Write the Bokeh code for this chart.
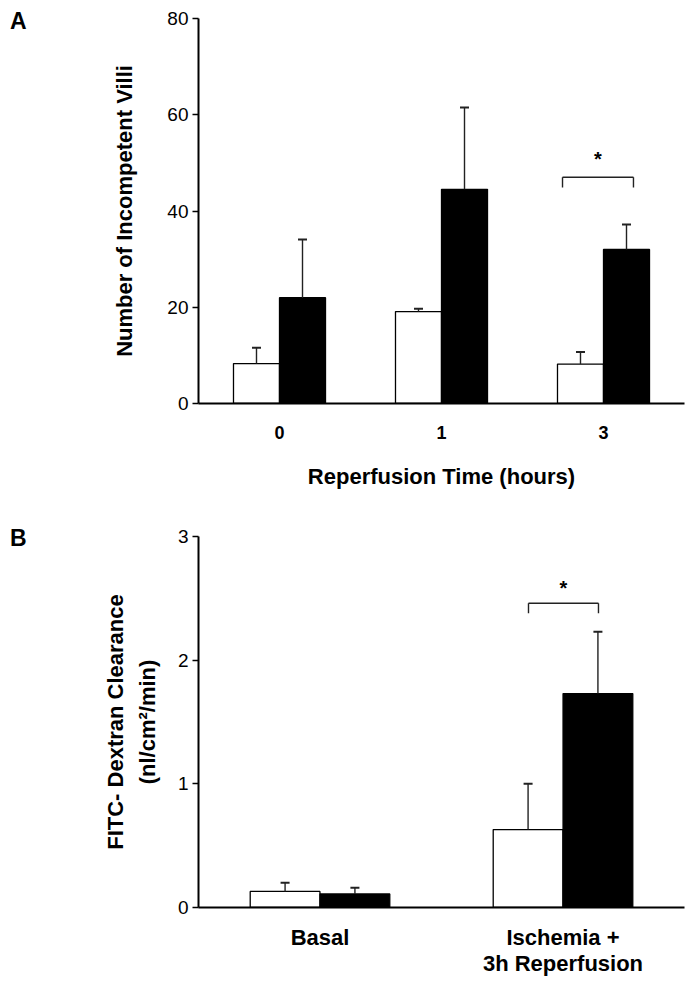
from bokeh.plotting import figure
from bokeh.layouts import column
from bokeh.models import ColumnDataSource, FixedTicker, Range1d, FactorRange, LinearAxis
from bokeh.core.properties import value
from bokeh.transform import dodge
from bokeh.embed import file_html
from bokeh.resources import INLINE

# ---------------- data ----------------
# Panel A: number of incompetent villi vs reperfusion time
groups_a = ["0", "1", "3"]
white_a = [8.3, 19.1, 8.2]
white_err_a = [3.3, 0.6, 2.5]
black_a = [22.0, 44.5, 32.0]
black_err_a = [12.1, 17.0, 5.2]
yticks_a = [0, 20, 40, 60, 80]
sig_group_a = "3"
bracket_a = [44.9, 47.0]   # leg bottom, bracket top
star_a = 50.9
panel_a = "A"

# Panel B: FITC-dextran clearance
groups_b = ["Basal", "Ischemia +\n3h Reperfusion"]
white_b = [0.13, 0.63]
white_err_b = [0.07, 0.37]
black_b = [0.11, 1.73]
black_err_b = [0.05, 0.50]
yticks_b = [0, 1, 2, 3]
sig_group_b = "Ischemia +\n3h Reperfusion"
bracket_b = [2.38, 2.46]
star_b = 2.58
panel_b = "B"

FONT = "Liberation Sans"


def style(p):
    p.outline_line_color = None
    p.xgrid.visible = False
    p.ygrid.visible = False
    for ax in (p.xaxis[0], p.yaxis[0]):
        ax.axis_line_width = 2
        ax.axis_line_color = "black"
        ax.major_tick_line_color = "black"
        ax.major_tick_line_width = 1.5
        ax.minor_tick_out = 0
        ax.minor_tick_in = 0
        ax.major_label_text_font = FONT
        ax.axis_label_text_font = FONT
        ax.major_label_text_color = "black"
        ax.axis_label_text_color = "black"
        ax.axis_label_text_font_style = "bold"
    p.xaxis.major_tick_out = 0
    p.xaxis.major_tick_in = 0
    p.yaxis.major_tick_out = 6
    p.yaxis.major_tick_in = 0


def panel_letter(p, letter, at, standoff):
    ax = LinearAxis(ticker=FixedTicker(ticks=[at]), major_label_overrides={at: letter},
                    axis_line_color=None, major_tick_line_color=None,
                    minor_tick_line_color=None, major_label_standoff=standoff,
                    major_label_text_font=FONT, major_label_text_font_size="23px",
                    major_label_text_font_style="bold", major_label_text_color="black")
    p.add_layout(ax, "left")


def bars(p, groups, white, white_err, black, black_err, off, w, cap):
    src = ColumnDataSource(dict(
        g=groups, white=white, black=black,
        white_hi=[v + e for v, e in zip(white, white_err)],
        black_hi=[v + e for v, e in zip(black, black_err)],
    ))
    xw = dodge("g", -off, range=p.x_range)
    xb = dodge("g", off, range=p.x_range)
    p.vbar(x=xw, top="white", bottom=0, width=w, source=src,
           fill_color="white", line_color="black", line_width=1.3)
    p.vbar(x=xb, top="black", bottom=0, width=w, source=src,
           fill_color="black", line_color="black", line_width=1.3)
    for x, lo, hi in ((xw, "white", "white_hi"), (xb, "black", "black_hi")):
        p.segment(x0=x, y0=lo, x1=x, y1=hi, source=src,
                  line_color="#222222", line_width=1.4)
        p.scatter(x=x, y=hi, source=src, marker="dash", size=cap,
                  line_color="#222222", line_width=2)


def bracket(p, group, left, right, ys, star, fsize):
    s = ColumnDataSource(dict(g=[group], lo=[ys[0]], hi=[ys[1]], st=[star], t=["*"]))
    xl = dodge("g", left, range=p.x_range)
    xr = dodge("g", right, range=p.x_range)
    p.segment(x0=xl, y0="hi", x1=xr, y1="hi", source=s, line_color="#222222", line_width=1.4)
    p.segment(x0=xl, y0="lo", x1=xl, y1="hi", source=s, line_color="#222222", line_width=1.4)
    p.segment(x0=xr, y0="lo", x1=xr, y1="hi", source=s, line_color="#222222", line_width=1.4)
    p.text(x=dodge("g", (left + right) / 2, range=p.x_range), y="st", text="t", source=s,
           text_align="center", text_baseline="middle", text_font_size=fsize,
           text_font_style="bold", text_color="black", text_font=value(FONT))


# ---------------- panel A ----------------
pa = figure(width=690, height=500, x_range=FactorRange(*groups_a), y_range=Range1d(0, 80),
            output_backend="svg", toolbar_location=None,
            min_border_left=198, min_border_right=6, min_border_top=18, min_border_bottom=97)
style(pa)
pa.yaxis.ticker = FixedTicker(ticks=yticks_a)
pa.yaxis.axis_label = "Number of Incompetent Villi"
pa.yaxis.axis_label_text_font_size = "22px"
pa.yaxis.major_label_text_font_size = "19px"
pa.yaxis.major_label_standoff = 4
pa.yaxis.axis_label_standoff = 27
pa.xaxis.axis_label = "Reperfusion Time (hours)"
pa.xaxis.axis_label_text_font_size = "22px"
pa.xaxis.major_label_text_font_size = "18px"
pa.xaxis.major_label_text_font_style = "bold"
pa.xaxis.major_label_standoff = 22
pa.xaxis.axis_label_standoff = 22
bars(pa, groups_a, white_a, white_err_a, black_a, black_err_a, 0.142, 0.284, 9)
bracket(pa, sig_group_a, -0.253, 0.185, bracket_a, star_a, "20px")
panel_letter(pa, panel_a, 79.5, 77)

# ---------------- panel B ----------------
pb = figure(width=690, height=486, x_range=FactorRange(*groups_b), y_range=Range1d(0, 3),
            output_backend="svg", toolbar_location=None,
            min_border_left=193, min_border_right=2, min_border_top=36, min_border_bottom=79)
style(pb)
pb.yaxis.ticker = FixedTicker(ticks=yticks_b)
pb.yaxis.axis_label = "FITC- Dextran Clearance\n(nl/cm\u00b2/min)"
pb.yaxis.axis_label_text_font_size = "22px"
pb.yaxis.axis_label_text_line_height = 1.27
pb.yaxis.major_label_text_font_size = "19px"
pb.yaxis.major_label_standoff = 4
pb.yaxis.axis_label_standoff = 15
pb.xaxis.major_label_text_font_size = "22px"
pb.xaxis.major_label_text_font_style = "bold"
pb.xaxis.major_label_text_line_height = 1.05
pb.xaxis.major_label_standoff = 17
bars(pb, groups_b, white_b, white_err_b, black_b, black_err_b, 0.1437, 0.287, 9)
bracket(pb, sig_group_b, -0.142, 0.146, bracket_b, star_b, "20px")
panel_letter(pb, panel_b, 2.99, 68)

layout = column(pa, pb, spacing=0)
open("out.html", "w").write(file_html(layout, INLINE))
